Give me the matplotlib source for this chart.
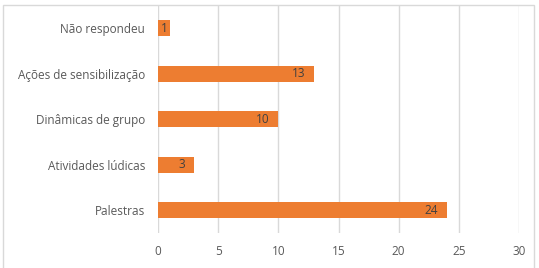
import matplotlib
matplotlib.use('Agg')
import matplotlib.pyplot as plt
from matplotlib.patches import Rectangle

# dados
categorias = ['Palestras', 'Atividades lúdicas', 'Dinâmicas de grupo',
              'Ações de sensibilização', 'Não respondeu']
valores = [24, 3, 10, 13, 1]
ticks_x = [0, 5, 10, 15, 20, 25, 30]

plt.rcParams['font.family'] = ['Open Sans', 'DejaVu Sans']
cinza = '#595959'
fs = 8.5

fig = plt.figure(figsize=(5.39, 2.68), dpi=100)
W, H = 539, 268
ax = fig.add_axes([158 / W, 1 - 232.8 / H, (519 - 158) / W, (232.8 - 5.3) / H])

y = list(range(len(categorias)))
ax.barh(y, valores, height=0.35, color='#ED7D31', zorder=3)
for yi, v in zip(y, valores):
    if v < 2:
        ax.text(v / 2, yi, str(v), ha='center', va='center', fontsize=fs, color='#404040', zorder=4)
    else:
        ax.annotate(str(v), (v, yi), xytext=(-9, 0), textcoords='offset pixels',
                    ha='right', va='center', fontsize=fs, color='#404040', zorder=4)

ax.set_xlim(0, 30)
ax.set_ylim(-0.5, len(categorias) - 0.5)
ax.set_xticks(ticks_x)
ax.set_yticks(y)
ax.set_yticklabels(categorias)
ax.grid(axis='x', color='#D9D9D9', linewidth=1.0, zorder=0)
for s in ax.spines.values():
    s.set_visible(False)
ax.tick_params(length=0, labelsize=fs, colors=cinza)
ax.tick_params(axis='y', pad=9.4)
ax.tick_params(axis='x', pad=9)

# moldura do gráfico
fig.patches.append(Rectangle((3 / W, -0.05), 531 / W, 1.05 - 5 / H, transform=fig.transFigure,
                             fill=False, edgecolor='#D9D9D9', linewidth=1.0))

fig.savefig('out.png', dpi=100)
